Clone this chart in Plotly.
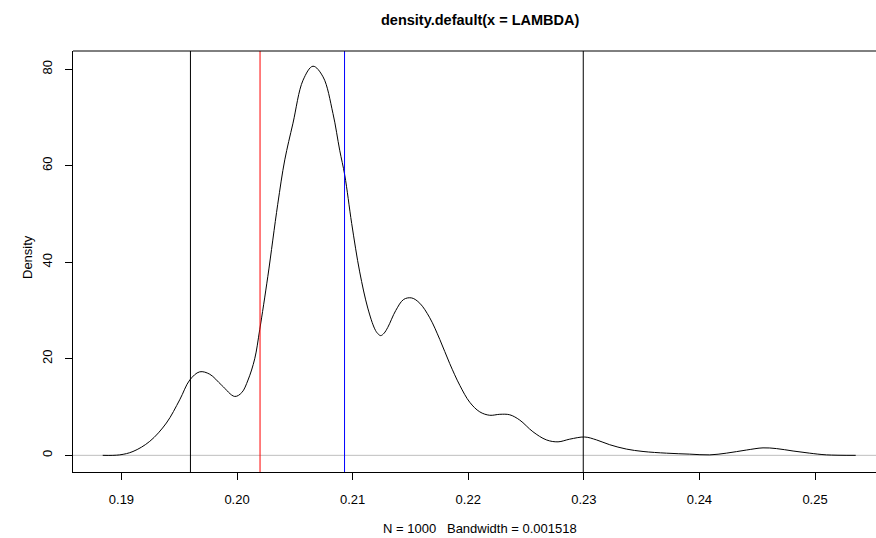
import plotly.graph_objects as go

# Kernel density estimate of LAMBDA (N = 1000, bw = 0.001518)
lambda_x = [0.18838, 0.18985, 0.19100, 0.19245, 0.19389, 0.19504, 0.19591, 0.19677,
            0.19764, 0.19868, 0.19980, 0.20041, 0.20095, 0.20153, 0.20196, 0.20266,
            0.20352, 0.20413, 0.20484, 0.20571, 0.20657, 0.20744, 0.20830, 0.20888,
            0.20932, 0.20992, 0.21061, 0.21131, 0.21191, 0.21218, 0.21243, 0.21272,
            0.21304, 0.21373, 0.21442, 0.21511, 0.21581, 0.21667, 0.21754, 0.21840,
            0.21927, 0.22013, 0.22100, 0.22186, 0.22273, 0.22359, 0.22446, 0.22559,
            0.22676, 0.22777, 0.22878, 0.23008, 0.23109, 0.23224, 0.23368, 0.23512,
            0.23715, 0.23916, 0.24089, 0.24233, 0.24407, 0.24550, 0.24666, 0.24810,
            0.24954, 0.25099, 0.25352]
density_y = [0.0, 0.1, 0.8, 2.9, 6.7, 11.5, 15.6, 17.3,
             16.8, 14.5, 12.2, 13.0, 15.6, 20.0, 26.0, 37.0,
             52.0, 61.2, 68.8, 77.7, 80.6, 78.4, 70.8, 63.2,
             58.0, 48.0, 38.0, 30.5, 26.2, 25.2, 24.8, 25.3,
             26.5, 30.0, 32.3, 32.6, 31.5, 28.5, 24.0, 19.0,
             14.5, 11.0, 9.0, 8.3, 8.5, 8.4, 7.3, 4.9,
             3.2, 2.8, 3.35, 3.8, 3.2, 2.2, 1.3, 0.8,
             0.45, 0.25, 0.1, 0.45, 1.1, 1.55, 1.4, 0.9,
             0.45, 0.1, 0.0]

# Reference lines: interval bounds (black), red and blue markers
bound_lines = [0.19597, 0.22995]
red_line = 0.20199
blue_line = 0.20930

x_ticks = [0.19, 0.20, 0.21, 0.22, 0.23, 0.24, 0.25]
x_tick_text = ["0.19", "0.20", "0.21", "0.22", "0.23", "0.24", "0.25"]
y_ticks = [0, 20, 40, 60, 80]

FONT = "Liberation Sans, Arial, Helvetica, sans-serif"

fig = go.Figure()
fig.add_trace(go.Scatter(
    x=lambda_x, y=density_y, mode="lines",
    line=dict(color="black", width=1, shape="spline", smoothing=1.0),
    hoverinfo="skip", showlegend=False,
))

shapes = []
# zero line
shapes.append(dict(type="line", xref="paper", x0=0, x1=1, yref="y", y0=0, y1=0,
                   line=dict(color="#BEBEBE", width=1), layer="below"))
for v in bound_lines:
    shapes.append(dict(type="line", xref="x", x0=v, x1=v, yref="paper", y0=0, y1=1,
                       line=dict(color="black", width=1)))
shapes.append(dict(type="line", xref="x", x0=red_line, x1=red_line, yref="paper", y0=0, y1=1,
                   line=dict(color="#FF0000", width=1)))
shapes.append(dict(type="line", xref="x", x0=blue_line, x1=blue_line, yref="paper", y0=0, y1=1,
                   line=dict(color="#0000FF", width=1)))
# top border of the box
shapes.append(dict(type="line", xref="paper", x0=0, x1=1, yref="paper", y0=1, y1=1,
                   line=dict(color="black", width=1)))

L, R, T, B = 73, 0, 51, 66
W, H = 876, 538
plot_w = W - L - R
px_per_unit_x = 11560.0
x_left = 0.18581
x_right = x_left + plot_w / px_per_unit_x

fig.update_layout(
    width=W, height=H,
    margin=dict(l=L, r=R, t=T, b=B),
    paper_bgcolor="white", plot_bgcolor="white",
    font=dict(family=FONT, size=13, color="black"),
    shapes=shapes,
    xaxis=dict(
        range=[x_left, x_right], tickvals=x_ticks, ticktext=x_tick_text,
        ticks="outside", ticklen=7, tickcolor="black", tickwidth=1,
        showline=True, linecolor="black", linewidth=1,
        showgrid=False, zeroline=False, ticklabelstandoff=8,
        tickfont=dict(family=FONT, size=13),
    ),
    yaxis=dict(
        range=[-3.45, 83.75], tickvals=y_ticks,
        ticks="outside", ticklen=7, tickcolor="black", tickwidth=1,
        showline=True, linecolor="black", linewidth=1,
        showgrid=False, zeroline=False, tickangle=-90, ticklabelstandoff=8,
        tickfont=dict(family=FONT, size=13),
    ),
    annotations=[
        dict(text="<b>density.default(x = LAMBDA)</b>", xref="paper", yref="paper",
             x=(479.5 - L) / plot_w, y=(H - B - 20) / (H - T - B),
             xanchor="center", yanchor="middle", showarrow=False,
             font=dict(family=FONT, size=14.5, color="black")),
        dict(text="N = 1000\u00a0\u00a0\u00a0Bandwidth = 0.001518", xref="paper", yref="paper",
             x=(479.5 - L) / plot_w, y=(H - B - 528) / (H - T - B),
             xanchor="center", yanchor="middle", showarrow=False,
             font=dict(family=FONT, size=13, color="black")),
        dict(text="Density", xref="paper", yref="paper",
             x=(27 - L) / plot_w, y=(H - B - 257) / (H - T - B),
             xanchor="center", yanchor="middle", showarrow=False, textangle=-90,
             font=dict(family=FONT, size=13, color="black")),
    ],
)

fig.write_html("out.html")
